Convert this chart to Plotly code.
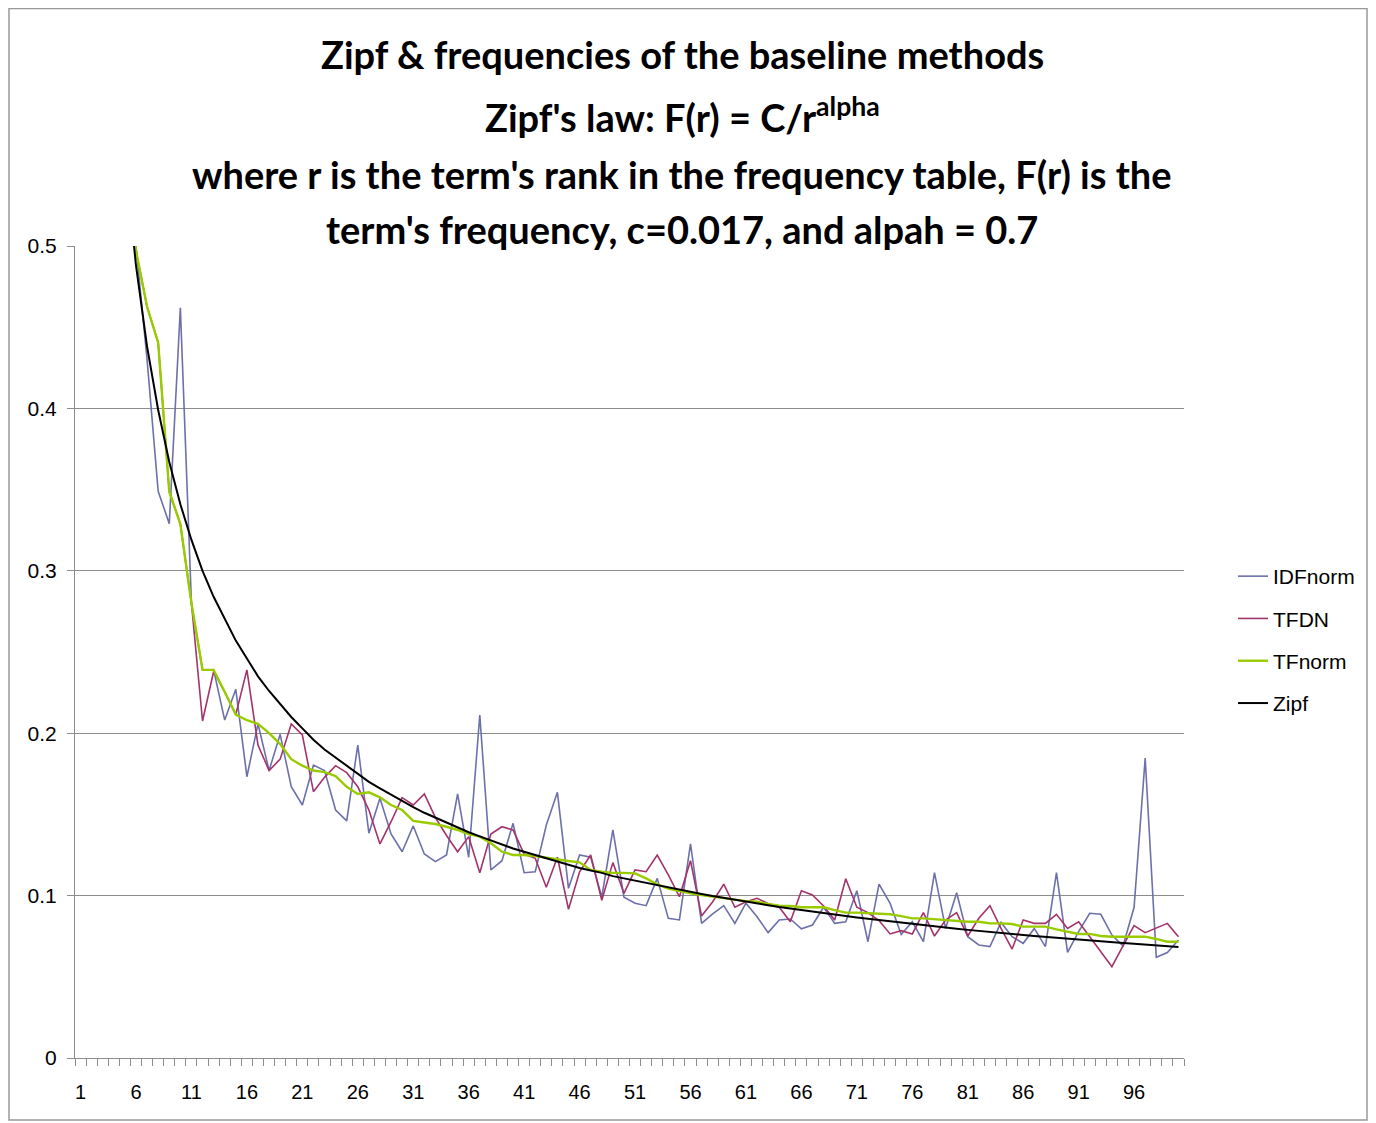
import plotly.graph_objects as go

ranks = list(range(1, 101))
x_tick_labels = [str(v) for v in range(1, 97, 5)]

idf_norm = [1.0, 0.85, 0.73, 0.64, 0.58, 0.50, 0.43, 0.349, 0.329, 0.462,
            0.28, 0.239, 0.239, 0.2081, 0.227, 0.1732, 0.2057, 0.177, 0.1993, 0.167,
            0.1558, 0.1804, 0.177, 0.1527, 0.146, 0.1927, 0.1384, 0.16, 0.138, 0.127,
            0.1429, 0.1256, 0.1209, 0.125, 0.1626, 0.1236, 0.2112, 0.1158, 0.1215, 0.1445,
            0.1141, 0.1147, 0.1435, 0.1636, 0.1045, 0.125, 0.1236, 0.099, 0.1404, 0.099,
            0.0953, 0.0938, 0.1106, 0.086, 0.085, 0.1318, 0.0829, 0.0887, 0.0938, 0.0829,
            0.0953, 0.087, 0.0772, 0.085, 0.0856, 0.0796, 0.0819, 0.0928, 0.0829, 0.0839,
            0.103, 0.0716, 0.1071, 0.0952, 0.0761, 0.0839, 0.0716, 0.1141, 0.0798, 0.1018,
            0.0747, 0.0696, 0.0686, 0.0835, 0.0747, 0.0706, 0.0798, 0.0686, 0.1141, 0.0651,
            0.0778, 0.0891, 0.0885, 0.0757, 0.069, 0.0928, 0.1847, 0.062, 0.0649, 0.0727]

tfdn = [1.0, 0.84, 0.72, 0.63, 0.56, 0.497, 0.4626, 0.4405, 0.3487, 0.3288,
        0.28, 0.2075, 0.238, 0.2254, 0.2115, 0.239, 0.1927, 0.177, 0.184, 0.2057,
        0.199, 0.164, 0.1728, 0.18, 0.1757, 0.167, 0.1527, 0.1318, 0.1455, 0.1603,
        0.1558, 0.1626, 0.148, 0.137, 0.127, 0.1363, 0.1141, 0.1379, 0.1424, 0.1404,
        0.1256, 0.123, 0.1051, 0.1236, 0.0916, 0.1147, 0.125, 0.0971, 0.1203, 0.1014,
        0.1158, 0.1147, 0.125, 0.1127, 0.0993, 0.1215, 0.0874, 0.0962, 0.1071, 0.0928,
        0.0962, 0.0983, 0.0952, 0.0928, 0.0839, 0.103, 0.1004, 0.0936, 0.085, 0.1104,
        0.0928, 0.0895, 0.0846, 0.0764, 0.0784, 0.0764, 0.0895, 0.0751, 0.085, 0.0895,
        0.0751, 0.086, 0.0938, 0.0798, 0.0671, 0.085, 0.0829, 0.0829, 0.0885, 0.0798,
        0.0839, 0.0747, 0.0655, 0.0562, 0.069, 0.0815, 0.0772, 0.0802, 0.0829, 0.0747]

tf_norm = [1.0, 0.84, 0.72, 0.63, 0.56, 0.497, 0.4626, 0.4405, 0.3487, 0.3288,
           0.28, 0.239, 0.239, 0.2254, 0.2115, 0.208, 0.2057, 0.2, 0.1933, 0.184,
           0.18, 0.177, 0.176, 0.1736, 0.167, 0.1626, 0.1636, 0.1605, 0.1558, 0.1527,
           0.146, 0.145, 0.1441, 0.1424, 0.1404, 0.1379, 0.1363, 0.1322, 0.127, 0.125,
           0.125, 0.1244, 0.1233, 0.1226, 0.1213, 0.1205, 0.1158, 0.1147, 0.114, 0.114,
           0.1137, 0.1106, 0.1069, 0.1043, 0.1028, 0.1014, 0.1003, 0.0993, 0.0987, 0.0977,
           0.0966, 0.0963, 0.0948, 0.0938, 0.0936, 0.0928, 0.0928, 0.0928, 0.0911, 0.0895,
           0.0895, 0.0891, 0.0885, 0.0885, 0.0874, 0.086, 0.086, 0.0854, 0.085, 0.0846,
           0.0839, 0.0839, 0.0829, 0.0829, 0.0825, 0.0809, 0.0809, 0.0809, 0.0792, 0.0778,
           0.0764, 0.0764, 0.0751, 0.0747, 0.0747, 0.0747, 0.0747, 0.0733, 0.0716, 0.0716]

zipf = [1.71, 1.053, 0.792, 0.648, 0.554, 0.488, 0.438, 0.399, 0.367, 0.341,
        0.319, 0.300, 0.284, 0.270, 0.257, 0.246, 0.235, 0.226, 0.218, 0.210,
        0.203, 0.196, 0.190, 0.185, 0.180, 0.175, 0.170, 0.166, 0.162, 0.158,
        0.1545, 0.151, 0.148, 0.145, 0.142, 0.139, 0.1365, 0.134, 0.1315, 0.129,
        0.127, 0.125, 0.123, 0.121, 0.119, 0.117, 0.1155, 0.114, 0.112, 0.1106,
        0.109, 0.1076, 0.1062, 0.1048, 0.1035, 0.1022, 0.101, 0.0997, 0.0985, 0.0973,
        0.0962, 0.0951, 0.0941, 0.093, 0.092, 0.091, 0.0901, 0.0892, 0.0883, 0.0874,
        0.0865, 0.0857, 0.0849, 0.084, 0.0833, 0.0825, 0.0817, 0.081, 0.0803, 0.0796,
        0.0789, 0.0782, 0.0776, 0.077, 0.0764, 0.0758, 0.0752, 0.0746, 0.074, 0.0734,
        0.0729, 0.0723, 0.0718, 0.0713, 0.0708, 0.0703, 0.0698, 0.0693, 0.0688, 0.0684]

series = [
    ("IDFnorm", idf_norm, "#6D70AA", 1.6),
    ("TFDN", tfdn, "#A3336B", 1.6),
    ("TFnorm", tf_norm, "#99CC00", 2.4),
    ("Zipf", zipf, "#000000", 2.0),
]

AXIS_FONT = "Liberation Sans, Arial, sans-serif"
TITLE_FONT = "Lato, Carlito, Calibri, sans-serif"
GRID = "#8c8c8c"

fig = go.Figure()
for name, vals, color, w in series:
    fig.add_trace(go.Scatter(x=ranks, y=vals, mode="lines", name=name,
                             legendgroup=name,
                             line=dict(color=color, width=w)))

# page body has an 8px margin; figure sized to compensate
OFF = 8
W, H = 1376 - OFF, 1123 - OFF
ml, mt = 75 - OFF, 246 - OFF
mr = W - (1184 - OFF)
mb = H - (1058 - OFF)
pw, ph = W - ml - mr, H - mt - mb


def px2x(px):
    return (px - OFF - ml) / pw


def py2y(py):
    return (H - mb - (py - OFF)) / ph


fig.update_layout(
    width=W, height=H, autosize=False,
    margin=dict(l=ml, r=mr, t=mt, b=mb, pad=0),
    paper_bgcolor="white", plot_bgcolor="white",
    showlegend=True,
    legend=dict(x=px2x(1233), xanchor="left", y=py2y(640), yanchor="middle",
                font=dict(family=AXIS_FONT, size=21, color="black"),
                tracegroupgap=12, traceorder="grouped",
                bgcolor="rgba(0,0,0,0)"),
    xaxis=dict(range=[0.5, 100.5], tickmode="array",
               tickvals=[int(t) for t in x_tick_labels], ticktext=x_tick_labels,
               ticks="", showgrid=False, zeroline=False,
               showline=True, linecolor=GRID, linewidth=1,
               tickfont=dict(family=AXIS_FONT, size=20, color="black"),
               ticklabelstandoff=16,
               minor=dict(tick0=0.5, dtick=1, ticks="outside", ticklen=7,
                          tickcolor=GRID, tickwidth=1, showgrid=False)),
    yaxis=dict(range=[0, 0.5], tick0=0, dtick=0.1, showgrid=True,
               gridcolor=GRID, gridwidth=1, zeroline=False,
               showline=True, linecolor=GRID, linewidth=1,
               ticks="outside", ticklen=7, tickcolor=GRID,
               tickfont=dict(family=AXIS_FONT, size=21, color="black"),
               ticklabelstandoff=6),
)

title_lines = [
    ("Zipf & frequencies of the baseline methods", 54),
    ("Zipf's law: F(r) = C/r<sup>alpha</sup>", 115),
    ("where r is the term's rank in the frequency table, F(r) is the", 174),
    ("term's frequency, c=0.017, and alpah = 0.7", 229),
]
for txt, ypx in title_lines:
    fig.add_annotation(text=txt, xref="paper", yref="paper",
                       x=px2x(682), y=py2y(ypx), xanchor="center", yanchor="middle",
                       showarrow=False,
                       font=dict(family=TITLE_FONT, size=38, color="black", weight="bold"))

fig.add_shape(type="rect", xref="paper", yref="paper",
              x0=px2x(9), x1=px2x(1367), y0=py2y(1120), y1=py2y(8.5),
              line=dict(color="#999999", width=1.5), layer="below")

fig.write_html("out.html")
